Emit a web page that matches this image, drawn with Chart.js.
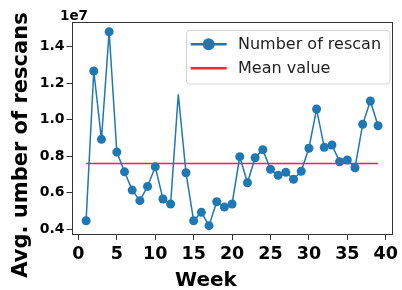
<!DOCTYPE html>
<html>
<head>
<meta charset="utf-8">
<script src="https://cdn.jsdelivr.net/npm/chart.js@4"></script>
<style>
  body { margin: 0; background: #fff; }
  #wrap { width: 402px; height: 290px; }
</style>
</head>
<body>
<div id="wrap"><canvas id="chart" width="402" height="290"></canvas></div>
<script>
// Datos
const weeks = [1, 2, 3, 4, 5, 6, 7, 8, 9, 10, 11, 12, 13, 14, 15, 16, 17, 18, 19, 20,
    21, 22, 23, 24, 25, 26, 27, 28, 29, 30, 31, 32, 33, 34, 35, 36, 37, 38, 39];
const rescans = [4.47e6, 12.67e6, 8.93e6, 14.82e6, 8.23e6, 7.15e6, 6.15e6, 5.57e6, 6.35e6, 7.43e6,
    5.66e6, 5.39e6, 11.39e6, 7.10e6, 4.47e6, 4.93e6, 4.20e6, 5.51e6, 5.22e6, 5.39e6,
    7.98e6, 6.55e6, 7.92e6, 8.36e6, 7.29e6, 6.96e6, 7.12e6, 6.74e6, 7.18e6, 8.44e6,
    10.59e6, 8.49e6, 8.62e6, 7.70e6, 7.80e6, 7.37e6, 9.75e6, 11.03e6, 9.67e6];
const meanValue = 7.61e6;
const xTicks = [0, 5, 10, 15, 20, 25, 30, 35, 40];
const yTicks = [4e6, 6e6, 8e6, 10e6, 12e6, 14e6];
const seriesLabels = ['Number of rescan', 'Mean value'];
const hiddenMarkerWeek = 13;

const BLUE = '#1f77b4';
const RED = 'rgba(255, 0, 0, 0.85)';
const FONT = 'DejaVu Sans';

// Marco, títulos y leyenda al estilo matplotlib
const decoraciones = {
    id: 'decoraciones',
    afterDraw(chart) {
        const ctx = chart.ctx;
        const a = chart.chartArea;
        ctx.save();

        // marco
        ctx.strokeStyle = '#333';
        ctx.lineWidth = 1;
        ctx.strokeRect(Math.round(a.left) + 0.5, Math.round(a.top) + 0.5,
            Math.round(a.right - a.left) - 1, Math.round(a.bottom - a.top) - 1);

        ctx.fillStyle = '#000';
        // factor de escala
        ctx.font = `bold 13.5px "${FONT}"`;
        ctx.textAlign = 'left';
        ctx.textBaseline = 'alphabetic';
        ctx.fillText('1e7', 60, 19.5);

        // título eje x
        ctx.font = `bold 20px "${FONT}"`;
        ctx.textAlign = 'center';
        ctx.fillText('Week', 206, 285.5);

        // título eje y
        ctx.save();
        ctx.font = `bold 21px "${FONT}"`;
        ctx.translate(27.3, 145);
        ctx.rotate(-Math.PI / 2);
        ctx.fillText('Avg. umber of rescans', 0, 0);
        ctx.restore();

        // leyenda
        const bx = 186.5, by = 30.5, bw = 203.5, bh = 53.5;
        ctx.beginPath();
        ctx.roundRect(bx, by, bw, bh, 3);
        ctx.fillStyle = 'rgba(255,255,255,0.8)';
        ctx.fill();
        ctx.strokeStyle = '#d6d6d6';
        ctx.stroke();

        const rows = [44.3, 68.3];
        const colores = [BLUE, RED];
        rows.forEach((y, i) => {
            ctx.beginPath();
            ctx.moveTo(190.7, y);
            ctx.lineTo(226.7, y);
            ctx.strokeStyle = colores[i];
            ctx.lineWidth = 2.5;
            ctx.stroke();
            if (i === 0) {
                ctx.beginPath();
                ctx.arc(208.7, y, 6, 0, Math.PI * 2);
                ctx.fillStyle = BLUE;
                ctx.fill();
            }
            ctx.fillStyle = '#222';
            ctx.font = `16px "${FONT}"`;
            ctx.textAlign = 'left';
            ctx.textBaseline = 'middle';
            ctx.fillText(seriesLabels[i], 238, y + 0.5);
        });

        ctx.restore();
    }
};

new Chart(document.getElementById('chart'), {
    type: 'line',
    data: {
        datasets: [{
            label: seriesLabels[0],
            data: weeks.map((w, i) => ({ x: w, y: rescans[i] })),
            borderColor: BLUE,
            backgroundColor: BLUE,
            borderWidth: 1.5,
            pointRadius: c => (weeks[c.dataIndex] === hiddenMarkerWeek ? 0 : 4.5),
            pointBorderWidth: 0,
            tension: 0
        }, {
            label: seriesLabels[1],
            data: [{ x: weeks[0], y: meanValue }, { x: weeks[weeks.length - 1], y: meanValue }],
            borderColor: RED,
            borderWidth: 1.5,
            pointRadius: 0
        }]
    },
    options: {
        responsive: false,
        animation: false,
        devicePixelRatio: 1,
        layout: { padding: { top: 21.7, right: 3.5, left: 0, bottom: 0 } },
        plugins: { legend: { display: false }, tooltip: { enabled: false } },
        scales: {
            x: {
                type: 'linear',
                min: -0.9,
                max: 40.9,
                afterBuildTicks: s => { s.ticks = xTicks.map(v => ({ value: v })); },
                afterFit: s => { s.height = 55; },
                grid: { drawOnChartArea: false, tickLength: 5, color: '#333' },
                border: { display: false },
                ticks: { color: '#000', padding: 4, maxRotation: 0,
                    font: { family: FONT, size: 17.5, weight: 'bold' } }
            },
            y: {
                min: 3.69e6,
                max: 15.37e6,
                afterBuildTicks: s => { s.ticks = yTicks.map(v => ({ value: v })); },
                afterFit: s => { s.width = 71.5; },
                grid: { drawOnChartArea: false, tickLength: 5, color: '#333' },
                border: { display: false },
                ticks: { color: '#000', padding: 2,
                    callback: v => (v / 1e7).toFixed(1),
                    font: { family: FONT, size: 14, weight: 'bold' } }
            }
        }
    },
    plugins: [decoraciones]
});
</script>
</body>
</html>
